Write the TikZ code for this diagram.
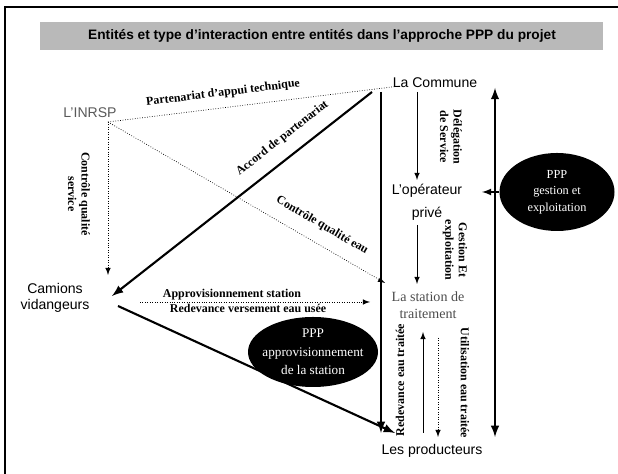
\documentclass[tikz,border=0pt]{standalone}
\usepackage{fontspec}
\setmainfont{Liberation Serif}
\setsansfont{Liberation Sans}
\usetikzlibrary{shapes.geometric}
\begin{document}
\begin{tikzpicture}[
  entite/.style={font=\sffamily\fontsize{8}{9}\selectfont, align=center, inner sep=1pt},
  lien/.style={font=\bfseries\fontsize{6.8}{7.6}\selectfont, align=center, inner sep=1pt},
  ppp/.style={ellipse, fill=black, text=white, align=center, inner xsep=-8pt, inner ysep=0pt},
  pointille/.style={densely dotted, -latex},
  fort/.style={very thick, -latex}
]
\useasboundingbox (0,0) rectangle (12.36,9.48);
%\draw[step=0.5cm,gray,very thin] (0,0) grid (12.36,9.48);
\draw[thick] (0.1,0) -- (0.1,9.34) -- (12.36,9.34);
\fill[gray!55] (0.8,8.48) rectangle (12.06,9.04);
\node[font=\sffamily\bfseries\fontsize{7.8}{9}\selectfont] (titre) at (6.44,8.76) {Entités et type d'interaction entre entités dans l'approche PPP du projet};

% entites
\node[entite] (commune) at (8.7,7.82) {La Commune};
\node[entite, text=gray!70!black] (inrsp) at (1.8,7.22) {L'INRSP};
\node[entite] (operateur) at (8.54,5.44) {L'opérateur\\[4pt]privé};
\node[entite, font=\fontsize{8}{10}\selectfont, text=gray!60!black] (station) at (8.56,3.38) {La station de\\traitement};
\node[entite] (camions) at (1.1,3.52) {Camions\\vidangeurs};
\node[entite] (producteurs) at (8.64,0.46) {Les producteurs};
\node[ppp, font=\fontsize{7}{9.4}\selectfont, minimum width=2.3cm, minimum height=1.56cm] (gestion) at (11.14,5.64) {PPP\\gestion et\\exploitation};
\node[ppp, font=\fontsize{7.5}{10.4}\selectfont, minimum width=2.6cm, minimum height=1.4cm] (appro) at (6.26,2.44) {PPP\\approvisionnement\\de la station};

% points
\coordinate (i0) at (2.16,7.04);
\coordinate (i1) at (2.16,3.98);
\coordinate (c0) at (8.0,7.76);
\coordinate (c1) at (7.44,7.64);
\coordinate (s0) at (7.7,3.82);
\coordinate (k0) at (2.24,3.56);
\coordinate (k1) at (2.36,3.36);
\coordinate (p0) at (7.9,0.82);
\coordinate (a0) at (2.8,3.44);
\coordinate (a1) at (7.4,3.44);
\coordinate (v0) at (7.62,7.64);
\coordinate (v1) at (7.62,0.82);
\coordinate (d0) at (8.34,7.64);
\coordinate (d1) at (8.34,5.88);
\coordinate (e0) at (8.34,4.98);
\coordinate (e1) at (8.34,3.8);
\coordinate (w0) at (9.9,7.72);
\coordinate (w1) at (9.9,0.74);
\coordinate (g0) at (9.64,5.64);
\coordinate (r0) at (8.46,0.82);
\coordinate (r1) at (8.46,2.84);
\coordinate (u0) at (8.76,2.72);
\coordinate (u1) at (8.76,0.74);

% liens
\draw[densely dotted] (i0) -- node[lien, sloped, above=4pt, pos=0.4] (l1) {Partenariat d'appui technique} (c0);
\draw[pointille] (i0) -- (i1);
\node[lien, rotate=-90] (l2) at (1.58,5.6) {Contrôle qualité\\service};
\draw[pointille] (i0) -- node[lien, sloped, above=6pt, pos=0.74] (l3) {Contrôle qualité eau} (s0);
\draw[fort] (c1) -- node[lien, sloped, above=6pt, pos=0.3] (l4) {Accord de partenariat} (k0);
\draw[fort] (k1) -- (p0);
\draw[pointille] (a0) -- node[lien, above, pos=0.4] (l5) {Approvisionnement station}
  node[lien, below, pos=0.47] (l6) {Redevance versement eau usée} (a1);
\draw[fort] (v0) -- (v1);
\draw[-latex] (d0) -- (d1);
\node[lien, rotate=-90] (l7) at (9.02,6.74) {Délégation\\de Service};
\draw[-latex] (e0) -- (e1);
\node[lien, rotate=-90] (l8) at (9.1,4.48) {Gestion Et\\exploitation};
\draw[very thick, latex-latex] (w0) -- (w1);
\draw[thick, -latex] (gestion.west) -- (g0);
\draw[-latex] (r0) -- (r1);
\node[lien, rotate=90] (l9) at (8.0,1.88) {Redevance eau traitée};
\draw[pointille] (u0) -- (u1);
\node[lien, rotate=-90] (l10) at (9.3,1.82) {Utilisation eau traitée};
\end{tikzpicture}
\end{document}
